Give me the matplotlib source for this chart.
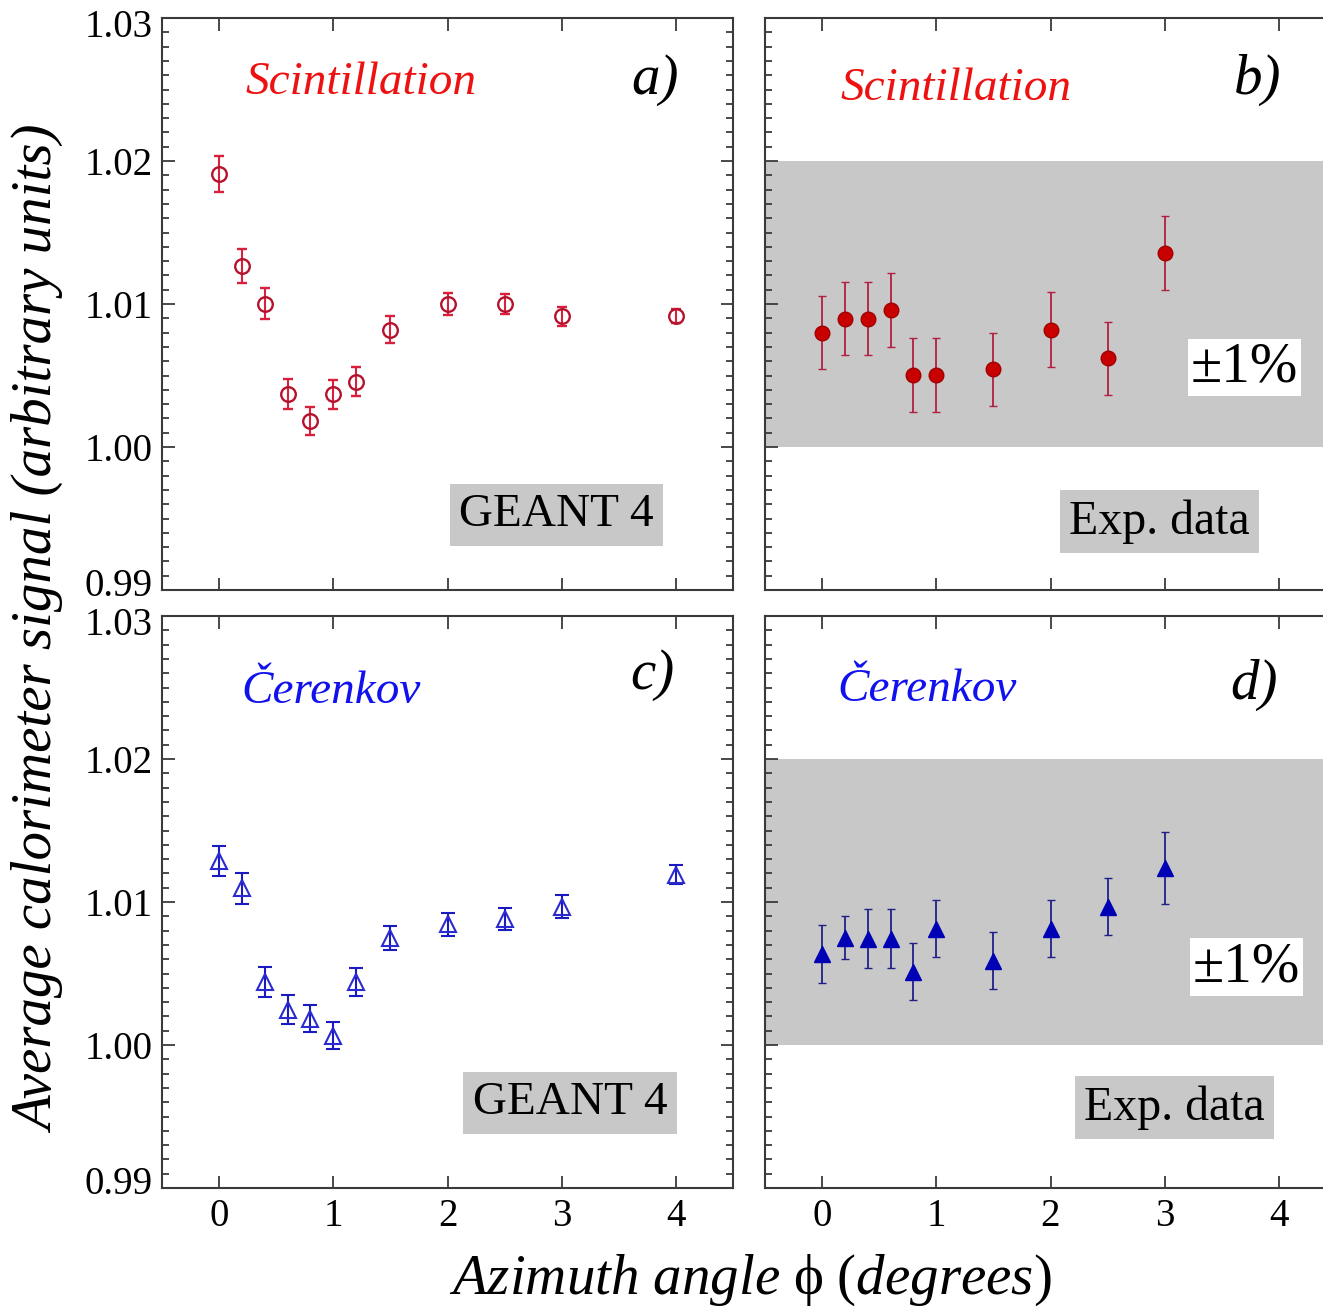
import matplotlib
matplotlib.use("Agg")
import matplotlib.pyplot as plt
import matplotlib.transforms as mtransforms
from matplotlib.ticker import MultipleLocator, FixedLocator

plt.rcParams['font.family'] = ['Liberation Serif', 'DejaVu Serif']
plt.rcParams['mathtext.fontset'] = 'custom'
plt.rcParams['mathtext.rm'] = 'Liberation Serif'
plt.rcParams['mathtext.it'] = 'Liberation Serif:italic'
plt.rcParams['mathtext.fallback'] = 'stix'

# ---- data ----
# a) GEANT4 scintillation
a_x = [0, 0.2, 0.4, 0.6, 0.8, 1.0, 1.2, 1.5, 2.0, 2.5, 3.0, 4.0]
a_y = [1.0191, 1.01265, 1.01003, 1.00368, 1.00181, 1.00368, 1.00456, 1.00821, 1.0100, 1.0100, 1.00914, 1.00914]
a_e = [0.00125, 0.0012, 0.0011, 0.00105, 0.0010, 0.0010, 0.0010, 0.00095, 0.00075, 0.0007, 0.00065, 0.0005]
# b) Exp. scintillation
b_x = [0, 0.2, 0.4, 0.6, 0.8, 1.0, 1.5, 2.0, 2.5, 3.0]
b_y = [1.0080, 1.00898, 1.00898, 1.00956, 1.00502, 1.00502, 1.00544, 1.00821, 1.00619, 1.01356]
b_e = [0.00256, 0.00256, 0.00256, 0.0026, 0.0026, 0.0026, 0.00256, 0.0026, 0.00256, 0.0026]
# c) GEANT4 Cerenkov
c_x = [0, 0.2, 0.4, 0.6, 0.8, 1.0, 1.2, 1.5, 2.0, 2.5, 3.0, 4.0]
c_y = [1.01285, 1.01096, 1.0044, 1.00248, 1.00184, 1.00064, 1.0044, 1.00749, 1.00843, 1.00881, 1.00968, 1.0119]
c_e = [0.00106, 0.00107, 0.00107, 0.0010, 0.00095, 0.00094, 0.00095, 0.00086, 0.0008, 0.00078, 0.00079, 0.00066]
# d) Exp. Cerenkov
d_x = [0, 0.2, 0.4, 0.6, 0.8, 1.0, 1.5, 2.0, 2.5, 3.0]
d_y = [1.00636, 1.00751, 1.00742, 1.00742, 1.00513, 1.00813, 1.0059, 1.00813, 1.00968, 1.01239]
d_e = [0.0020, 0.0015, 0.00207, 0.00207, 0.0020, 0.0020, 0.0020, 0.0020, 0.0020, 0.0025]

x_ticks = [0, 1, 2, 3, 4]
y_ticks = [0.99, 1.00, 1.01, 1.02, 1.03]
y_ticklabels = ['0.99', '1.00', '1.01', '1.02', '1.03']
band = (1.00, 1.02)

W, H = 1323, 1309
fig = plt.figure(figsize=(W / 100, H / 100), dpi=100)

def pos(l, t, r, b):
    return [l / W, 1 - b / H, (r - l) / W, (b - t) / H]

axa = fig.add_axes(pos(162, 18, 733, 590))
axb = fig.add_axes(pos(765, 18, 1336, 590))
axc = fig.add_axes(pos(162, 616, 733, 1188))
axd = fig.add_axes(pos(765, 616, 1336, 1188))

spine_col = '#3a3a3a'
for ax in (axa, axb, axc, axd):
    ax.set_xlim(-0.5, 4.5)
    ax.set_ylim(0.99, 1.03)
    ax.xaxis.set_major_locator(FixedLocator(x_ticks))
    ax.yaxis.set_major_locator(FixedLocator(y_ticks))
    ax.yaxis.set_minor_locator(MultipleLocator(0.001))
    ax.tick_params(which='both', direction='in', top=True, right=True, color=spine_col,
                   width=1.3, labelsize=28, pad=7)
    ax.tick_params(which='major', length=9)
    ax.tick_params(which='minor', length=5)
    for s in ax.spines.values():
        s.set_color(spine_col)
        s.set_linewidth(1.5)

for ax in (axa, axc):
    ax.set_yticklabels(y_ticklabels)
for ax in (axb, axd):
    ax.tick_params(labelleft=False)
for ax in (axa, axb):
    ax.tick_params(labelbottom=False)
for ax in (axc, axd):
    ax.set_xticklabels([str(v) for v in x_ticks])

# nudge the edge labels apart like the reference
up = mtransforms.ScaledTranslation(0, 8 / 100, fig.dpi_scale_trans)
down = mtransforms.ScaledTranslation(0, -5 / 100, fig.dpi_scale_trans)
lab_a = axa.get_yticklabels()
lab_a[0].set_transform(lab_a[0].get_transform() + up)
lab_a[-1].set_transform(lab_a[-1].get_transform() + down)
lab_c = axc.get_yticklabels()
lab_c[-1].set_transform(lab_c[-1].get_transform() + down)
lab_c[0].set_transform(lab_c[0].get_transform() + up)

# gray bands
for ax in (axb, axd):
    ax.axhspan(band[0], band[1], color='#c8c8c8', zorder=0, lw=0)

# a
axa.errorbar(a_x, a_y, yerr=a_e, fmt='o', mfc='none', mec='#b5122e', mew=1.7, ms=10.5,
             ecolor='#d8203c', elinewidth=1.5, capsize=3.5, capthick=1.5)
# b
axb.errorbar(b_x, b_y, yerr=b_e, fmt='o', mfc='#c80000', mec='#a00000', mew=1.0, ms=10.5,
             ecolor='#b02040', elinewidth=1.3, capsize=3, capthick=1.3)
# c
axc.errorbar(c_x, c_y, yerr=c_e, fmt='^', mfc='none', mec='#2a2ad0', mew=1.5, ms=11,
             ecolor='#1a1ac0', elinewidth=1.5, capsize=5, capthick=1.5)
# d
axd.errorbar(d_x, d_y, yerr=d_e, fmt='^', mfc='#0000b4', mec='#0000b4', mew=1.0, ms=11.5,
             ecolor='#202088', elinewidth=1.3, capsize=3, capthick=1.3)

red = '#ee1111'
blue = '#1111ee'
kw_it = dict(fontstyle='italic', ha='center', va='center')
axa.text(0.349, 0.886, 'Scintillation', color=red, fontsize=34, transform=axa.transAxes, **kw_it)
axb.text(0.334, 0.876, 'Scintillation', color=red, fontsize=34, transform=axb.transAxes, **kw_it)
axc.text(0.296, 0.867, 'Čerenkov', color=blue, fontsize=34, transform=axc.transAxes, **kw_it)
axd.text(0.283, 0.871, 'Čerenkov', color=blue, fontsize=34, transform=axd.transAxes, **kw_it)

axa.text(0.863, 0.892, 'a)', fontsize=41, transform=axa.transAxes, **kw_it)
axb.text(0.863, 0.892, 'b)', fontsize=41, transform=axb.transAxes, **kw_it)
axc.text(0.858, 0.897, 'c)', fontsize=41, transform=axc.transAxes, **kw_it)
axd.text(0.857, 0.879, 'd)', fontsize=41, transform=axd.transAxes, **kw_it)

box = dict(boxstyle='square,pad=0.2', fc='#c8c8c8', ec='none')
axa.text(0.691, 0.131, 'GEANT 4', fontsize=34, ha='center', va='center', bbox=box, transform=axa.transAxes)
axc.text(0.7145, 0.1486, 'GEANT 4', fontsize=34, ha='center', va='center', bbox=box, transform=axc.transAxes)
axb.text(0.691, 0.12, 'Exp. data', fontsize=34.5, ha='center', va='center', bbox=box, transform=axb.transAxes)
axd.text(0.717, 0.141, 'Exp. data', fontsize=34.5, ha='center', va='center', bbox=box, transform=axd.transAxes)

wbox = dict(boxstyle='square,pad=0.05', fc='white', ec='none')
axb.text(0.84, 0.389, '±1%', fontsize=41, ha='center', va='center', bbox=wbox, transform=axb.transAxes)
axd.text(0.843, 0.386, '±1%', fontsize=41, ha='center', va='center', bbox=wbox, transform=axd.transAxes)

fig.text(0.030, 0.519, 'Average calorimeter signal (arbitrary units)', rotation=90,
         fontsize=41, fontstyle='italic', ha='center', va='center')
fig.text(0.567, 0.022, r'$\mathit{Azimuth\ angle}\ \mathrm{\phi}\ \mathit{(degrees)}$', fontsize=41,
         ha='center', va='center')

fig.savefig('out.png', dpi=100)
